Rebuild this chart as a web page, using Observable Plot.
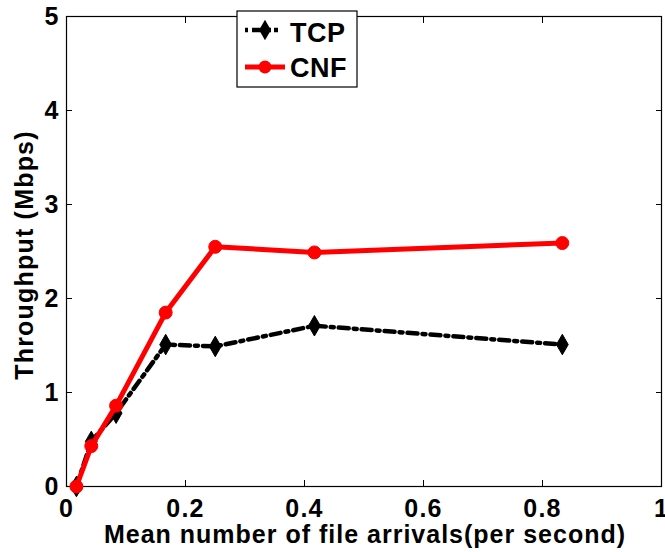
<!DOCTYPE html>
<html>
<head>
<meta charset="utf-8">
<script src="https://cdn.jsdelivr.net/npm/d3@7"></script>
<script src="https://cdn.jsdelivr.net/npm/@observablehq/plot@0.6"></script>
<style>
body { margin: 0; background: #fff; }
#chart { position: relative; width: 665px; height: 552px; }
</style>
</head>
<body>
<div id="chart"></div>
<script>
const arrivals = [1/60, 1/24, 1/12, 1/6, 1/4, 5/12, 5/6];
const tcp = [0.0, 0.48, 0.78, 1.51, 1.49, 1.71, 1.51];
const cnf = [0.0, 0.43, 0.86, 1.85, 2.55, 2.49, 2.59];
const xTicks = [0, 0.2, 0.4, 0.6, 0.8, 1];
const yTicks = [0, 1, 2, 3, 4, 5];
const seriesNames = ["TCP", "CNF"];
const xLabel = "Mean number of file arrivals(per second)";
const yLabel = "Throughput (Mbps)";

const tcpData = arrivals.map((x, i) => ({x, y: tcp[i]}));
const cnfData = arrivals.map((x, i) => ({x, y: cnf[i]}));

const font = "'Liberation Sans', Arial, Helvetica, sans-serif";

const plot = Plot.plot({
  width: 665,
  height: 552,
  marginLeft: 66,
  marginRight: 4,
  marginTop: 16,
  marginBottom: 66,
  style: {fontFamily: font, background: "#fff", letterSpacing: "1.2px"},
  x: {domain: [0, 1], label: null},
  y: {domain: [0, 5], label: null},
  marks: [
    Plot.frame({stroke: "#000", strokeWidth: 1.2}),
    Plot.axisX(xTicks, {anchor: "bottom", tickSize: -6, text: null, label: null, stroke: "#000"}),
    Plot.axisX(xTicks, {anchor: "top", tickSize: -6, text: null, label: null, stroke: "#000"}),
    Plot.axisY(yTicks, {anchor: "left", tickSize: -6, text: null, label: null, stroke: "#000"}),
    Plot.axisY(yTicks, {anchor: "right", tickSize: -6, text: null, label: null, stroke: "#000"}),
    Plot.text(xTicks, {x: d => d, text: d => String(d), frameAnchor: "bottom", lineAnchor: "bottom", dy: 30, fontSize: 25, fontWeight: "bold", fill: "#000"}),
    Plot.text(yTicks, {y: d => d, text: d => String(d), frameAnchor: "left", textAnchor: "end", lineAnchor: "middle", dx: -7, fontSize: 25, fontWeight: "bold", fill: "#000"}),
    Plot.line(tcpData, {x: "x", y: "y", stroke: "#000", strokeWidth: 4.5, strokeDasharray: "10,5,3,5"}),
    Plot.dot(tcpData, {x: "x", y: "y", symbol: "diamond", r: 6.2, fill: "#000", stroke: "#000", strokeWidth: 1}),
    Plot.line(cnfData, {x: "x", y: "y", stroke: "#ff0000", strokeWidth: 5}),
    Plot.dot(cnfData, {x: "x", y: "y", symbol: "circle", r: 6.5, fill: "#ff0000", stroke: "#ff0000", strokeWidth: 1})
  ]
});

document.getElementById("chart").appendChild(plot);

const svg = d3.select(plot);
// axis titles
svg.append("text")
  .attr("x", 365).attr("y", 543)
  .attr("text-anchor", "middle")
  .attr("font-family", font).attr("font-size", 25).attr("font-weight", "bold")
  .attr("fill", "#000")
  .style("letter-spacing", "1.0px")
  .text(xLabel);
svg.append("text")
  .attr("transform", "translate(33,255) rotate(-90)")
  .attr("text-anchor", "middle")
  .attr("font-family", font).attr("font-size", 25).attr("font-weight", "bold")
  .attr("fill", "#000")
  .text(yLabel);

// legend
const lg = svg.append("g");
lg.append("rect").attr("x", 237).attr("y", 11).attr("width", 120).attr("height", 76)
  .attr("fill", "#fff").attr("stroke", "#000").attr("stroke-width", 1.2);
const legendItems = [
  {name: seriesNames[0], color: "#000", dash: "3,4,12,4,3", sym: "diamond", w: 4.5, yy: 30, base: 42},
  {name: seriesNames[1], color: "#ff0000", dash: null, sym: "circle", w: 5, yy: 67, base: 77}
];
legendItems.forEach(it => {
  const l = lg.append("line").attr("x1", 245).attr("x2", 285).attr("y1", it.yy).attr("y2", it.yy)
    .attr("stroke", it.color).attr("stroke-width", it.w);
  if (it.dash) l.attr("stroke-dasharray", it.dash);
  const sym = it.sym === "diamond" ? d3.symbol(d3.symbolDiamond, Math.PI * 6.2 * 6.2) : d3.symbol(d3.symbolCircle, Math.PI * 6.5 * 6.5);
  lg.append("path").attr("d", sym()).attr("transform", `translate(265,${it.yy})`).attr("fill", it.color);
  lg.append("text").attr("x", 290).attr("y", it.base)
    .attr("text-anchor", "start")
    .attr("font-family", font).attr("font-size", 27).attr("font-weight", "bold").attr("fill", "#000")
    .style("letter-spacing", "0.5px")
    .text(it.name);
});
</script>
</body>
</html>
